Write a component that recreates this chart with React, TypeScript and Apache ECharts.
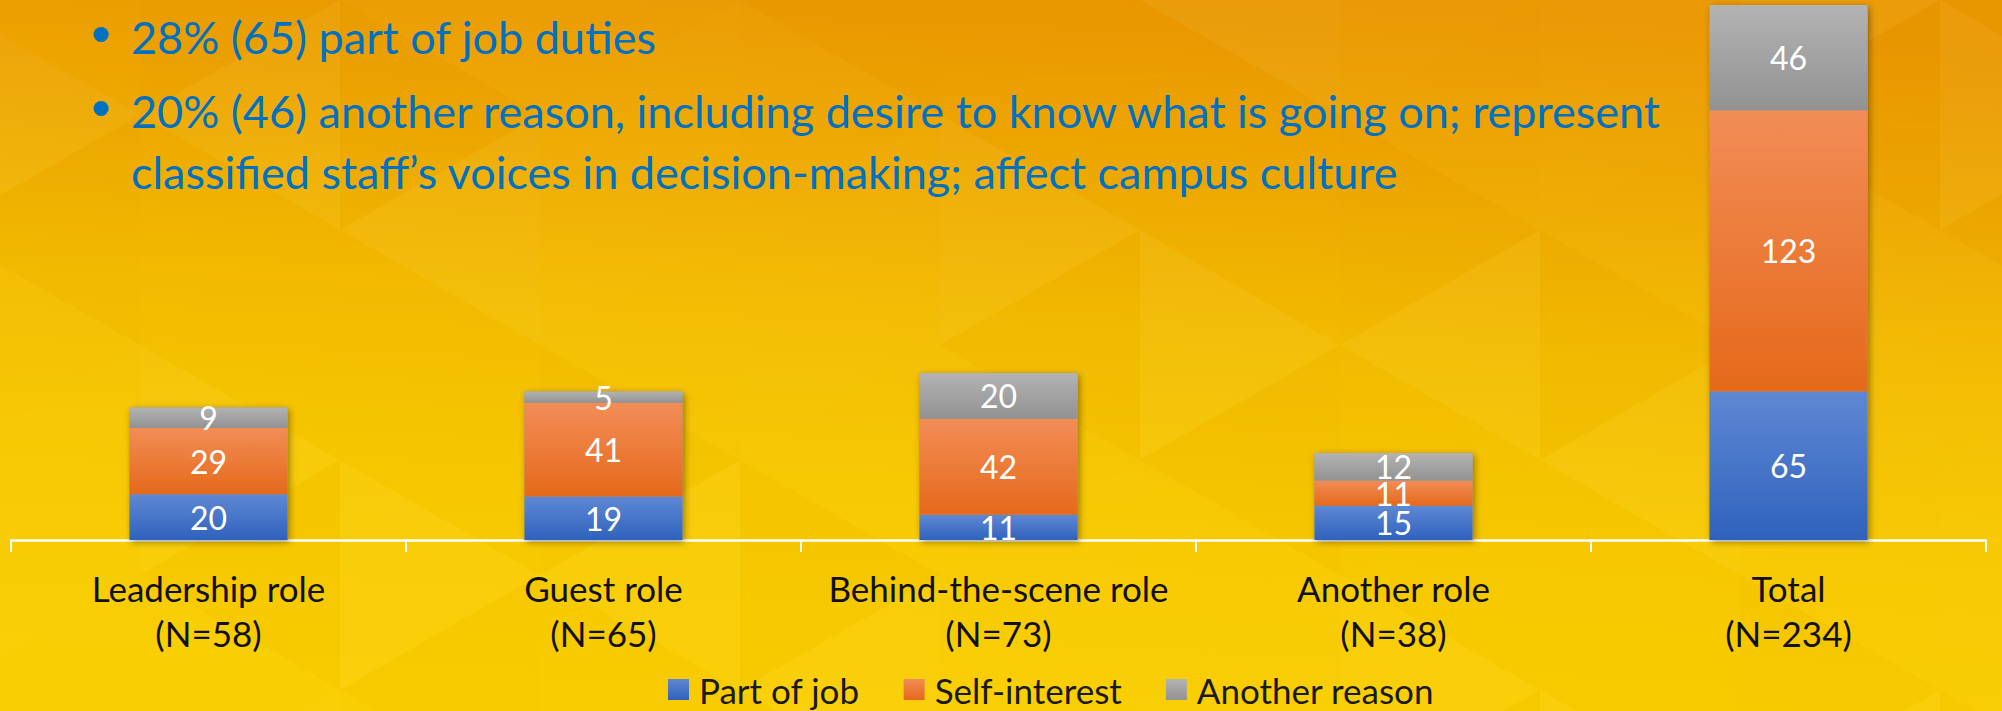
import React, { useEffect, useRef } from "react";
import * as echarts from "echarts";

const categories = ["Leadership role", "Guest role", "Behind-the-scene role", "Another role", "Total"];
const sampleSizes = [58, 65, 73, 38, 234];
const partOfJob = [20, 19, 11, 15, 65];
const selfInterest = [29, 41, 42, 11, 123];
const anotherReason = [9, 5, 20, 12, 46];
const seriesNames = ["Part of job", "Self-interest", "Another reason"];
const bulletLines = [
  "28% (65) part of job duties",
  "20% (46) another reason, including desire to know what is going on; represent",
  "classified staff’s voices in decision-making; affect campus culture",
];

const FONT = "Lato, 'Open Sans', sans-serif";

const grad = (top: string, bottom: string) =>
  new echarts.graphic.LinearGradient(0, 0, 0, 1, [
    { offset: 0, color: top },
    { offset: 1, color: bottom },
  ]);

// decorative triangle lattice for the background texture
function backgroundPattern() {
  const els: any[] = [];
  const W = 200;
  const H = 230;
  const shades = [
    "rgba(255,255,255,0.04)",
    "rgba(190,90,0,0.03)",
    "rgba(255,255,255,0.015)",
    "rgba(200,100,0,0.02)",
    "rgba(255,240,150,0.035)",
  ];
  for (let c = 0; c < 11; c++) {
    const x0 = c * W - 60;
    for (let r = -1; r < 4; r++) {
      const off = c % 2 === 0 ? 0 : H / 2;
      const y0 = r * H + off;
      els.push({
        type: "polygon",
        silent: true,
        z: -10,
        shape: { points: [[x0, y0], [x0 + W, y0 + H / 2], [x0, y0 + H]] },
        style: { fill: shades[(c * 3 + r * 2 + 5) % 5] },
      });
      els.push({
        type: "polygon",
        silent: true,
        z: -10,
        shape: { points: [[x0 + W, y0 + H / 2], [x0, y0 + H], [x0 + W, y0 + (3 * H) / 2]] },
        style: { fill: shades[(c * 2 + r * 3 + 1) % 5] },
      });
    }
  }
  return els;
}

export default function App() {
  const ref = useRef<HTMLDivElement>(null);
  useEffect(() => {
    document.body.style.margin = "0";
    const chart = echarts.init(ref.current!, null, { renderer: "svg" });
    const totals = categories.map((_, i) => partOfJob[i] + selfInterest[i] + anotherReason[i]);
    const labelStyle = {
      show: true,
      position: "inside",
      color: "#ffffff",
      fontSize: 32,
      fontFamily: FONT,
    };
    const colors = [
      ["#5f88d3", "#2f62bd"],
      ["#f28d57", "#e5691a"],
      ["#b3b3b3", "#929292"],
    ];
    const values = [partOfJob, selfInterest, anotherReason];
    const topFont = `45px ${FONT}`;
    const bulletFont = `52px 'DejaVu Sans', sans-serif`;
    chart.setOption({
      animation: false,
      backgroundColor: new echarts.graphic.LinearGradient(0.58, 0, 0.42, 1, [
        { offset: 0, color: "#ea9800" },
        { offset: 0.22, color: "#eea800" },
        { offset: 0.45, color: "#f3bc00" },
        { offset: 0.7, color: "#f7c900" },
        { offset: 1, color: "#f9cf00" },
      ]),
      grid: { left: 11, right: 16, top: 5, bottom: 171 },
      legend: {
        data: seriesNames,
        left: 668,
        top: 672,
        padding: 0,
        itemWidth: 21,
        itemHeight: 21,
        itemGap: 44,
        icon: "rect",
        textStyle: { color: "#1a1a1a", fontSize: 35, fontFamily: FONT, padding: [0, 0, 0, 5] },
      },
      xAxis: {
        type: "category",
        data: categories.map((c, i) => `${c}\n(N=${sampleSizes[i]})`),
        axisLine: { lineStyle: { color: "#ffffff", width: 2.5 } },
        axisTick: { show: true, length: 12, lineStyle: { color: "#ffffff", width: 2 } },
        axisLabel: {
          color: "#111111",
          fontSize: 35,
          lineHeight: 45,
          margin: 25,
          fontFamily: FONT,
          interval: 0,
        },
      },
      yAxis: {
        type: "value",
        min: 0,
        max: 234,
        show: false,
        splitLine: { show: false },
      },
      series: [
        {
          name: "shadow",
          type: "bar",
          data: totals,
          barWidth: "40%",
          barGap: "-100%",
          silent: true,
          z: 1,
          itemStyle: {
            color: "#999999",
            shadowBlur: 7,
            shadowColor: "rgba(0,0,0,0.4)",
            shadowOffsetX: 2,
            shadowOffsetY: 2,
          },
        },
        ...seriesNames.map((name, k) => ({
          name,
          type: "bar",
          stack: "total",
          data: values[k],
          barWidth: "40%",
          barGap: "-100%",
          z: 2,
          itemStyle: { color: grad(colors[k][0], colors[k][1]) },
          label: labelStyle,
        })),
      ],
      graphic: [
        ...backgroundPattern(),
        { type: "text", x: 101, y: 36, style: { text: "•", fill: "#0070c0", font: bulletFont, textAlign: "center", textVerticalAlign: "middle" } },
        { type: "text", left: 131, top: 14, style: { text: bulletLines[0], fill: "#0070c0", font: topFont } },
        { type: "text", x: 101, y: 110, style: { text: "•", fill: "#0070c0", font: bulletFont, textAlign: "center", textVerticalAlign: "middle" } },
        { type: "text", left: 131, top: 88, style: { text: bulletLines[1], fill: "#0070c0", font: topFont } },
        { type: "text", left: 131, top: 149, style: { text: bulletLines[2], fill: "#0070c0", font: topFont } },
      ],
    });
    return () => chart.dispose();
  }, []);
  return <div ref={ref} style={{ position: "fixed", left: 0, top: 0, width: 2002, height: 711 }} />;
}
